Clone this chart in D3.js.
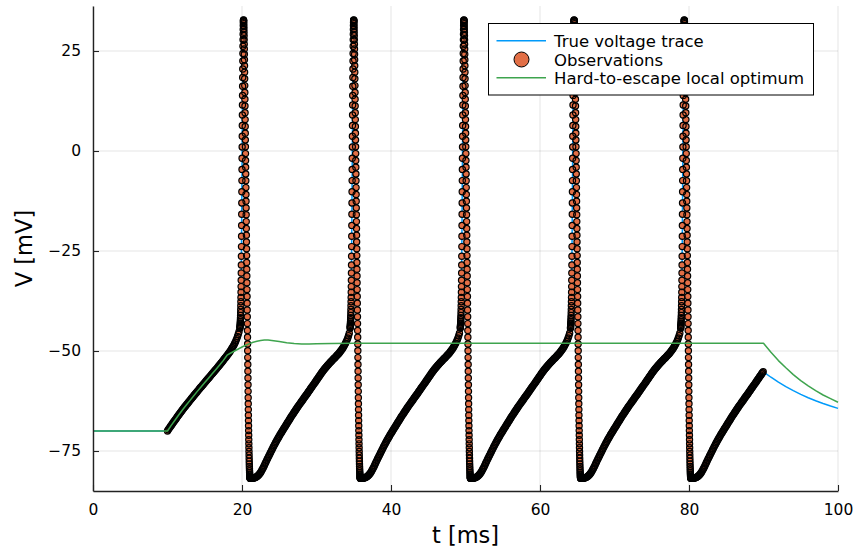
<!DOCTYPE html>
<html>
<head>
<meta charset="utf-8">
<script src="https://cdn.jsdelivr.net/npm/d3@7"></script>
<style>
  html, body { margin: 0; padding: 0; background: #fff; }
  svg { display: block; font-family: "DejaVu Sans", sans-serif; }
</style>
</head>
<body>
<svg id="chart" width="856" height="548"></svg>
<script>
// ---- axis ticks and series names ----
const xTicks = [0, 20, 40, 60, 80, 100];
const yTicks = [-75, -50, -25, 0, 25];
const seriesNames = ["True voltage trace", "Observations", "Hard-to-escape local optimum"];

// ---- membrane at rest before the current step (ms, mV) ----
const restT = [0, 10];
const restV = [-70, -70];

// ---- first depolarising ramp, one sample every 0.1 ms from t = 10 ms ----
const onsetStart = 10, onsetStep = 0.1;
const onsetV = [
  -70.0, -69.7, -69.4, -69.15, -68.85, -68.6, -68.35, -68.05, -67.8, -67.55,
  -67.3, -67.05, -66.8, -66.5, -66.25, -66.0, -65.75, -65.5, -65.25, -65.0,
  -64.75, -64.5, -64.25, -64.0, -63.8, -63.55, -63.3, -63.1, -62.85, -62.6,
  -62.4, -62.15, -61.95, -61.7, -61.5, -61.25, -61.0, -60.8, -60.55, -60.35,
  -60.1, -59.9, -59.65, -59.45, -59.2, -59.0, -58.8, -58.55, -58.35, -58.1,
  -57.9, -57.7, -57.45, -57.25, -57.0, -56.8, -56.6, -56.35, -56.15, -55.9,
  -55.7, -55.5, -55.25, -55.05, -54.8, -54.6, -54.4, -54.15, -53.95, -53.7,
  -53.5, -53.25, -53.0, -52.8, -52.55, -52.3, -52.05, -51.8, -51.6, -51.35,
  -51.1, -50.85, -50.6, -50.35, -50.1, -49.8, -49.5, -49.2, -48.9, -48.55,
  -48.2, -47.8, -47.35, -46.9, -46.35, -45.8, -45.2
];

// ---- spike peak times (ms) ----
const spikePeaks = [20.17, 34.96, 49.75, 64.54, 79.33];

// ---- action potential, one sample every 0.01 ms from 0.45 ms before each peak ----
const spikeOffset = -0.45, spikeStep = 0.01;
const spikeV = [
  // upstroke
  -44.3, -44.1, -43.85, -43.6, -43.3, -43.0, -42.6, -42.2, -41.7, -41.1,
  -40.4, -39.6, -38.7, -37.7, -36.6, -35.3, -33.9, -32.3, -30.5, -28.5,
  -26.3, -23.9, -21.3, -18.6, -15.8, -13.0, -10.2, -7.4, -4.6, -1.8,
  1.0, 3.7, 6.4, 9.0, 11.5, 13.9, 16.2, 18.4, 20.5, 22.5,
  24.4, 26.2, 27.8, 29.2, 30.4, 31.4,
  // peak
  32.1, 32.5, 32.7, 32.75, 32.6, 32.3, 31.8, 31.2, 30.5, 29.7,
  // repolarisation
  28.8, 27.8, 26.7, 25.5, 24.2, 22.8, 21.3, 19.7, 18.05, 16.35,
  14.65, 12.95, 11.25, 9.55, 7.85, 6.15, 4.45, 2.75, 1.05, -0.65,
  -2.35, -4.05, -5.75, -7.45, -9.15, -10.85, -12.55, -14.25, -15.95, -17.65,
  -19.35, -21.05, -22.75, -24.45, -26.15, -27.85, -29.55, -31.25, -32.95, -34.65,
  -36.35, -38.05, -39.75, -41.45, -43.15, -44.85, -46.55, -48.25, -49.95, -51.65,
  -53.35, -55.05, -56.75, -58.45,
  // approach to the after-hyperpolarisation trough
  -60.09, -61.67, -63.19, -64.65, -66.06, -67.4, -68.68, -69.9, -71.07, -72.17,
  -73.21, -74.2, -75.12, -75.99, -76.79, -77.54, -78.22, -78.85, -79.41, -79.92,
  -80.37, -80.76, -81.08, -81.35, -81.56, -81.71, -81.8, -81.83, -81.8
];

// ---- recovery towards threshold, one sample every 0.1 ms from 1.03 ms after each peak ----
const recoveryOffset = 1.03, recoveryStep = 0.1;
const recoveryV = [
  -81.8, -81.8, -81.8, -81.8, -81.75, -81.7, -81.6, -81.5, -81.4, -81.25,
  -81.05, -80.85, -80.6, -80.35, -80.05, -79.7, -79.35, -79.0, -78.6, -78.2,
  -77.8, -77.4, -77.0, -76.65, -76.25, -75.9, -75.5, -75.15, -74.75, -74.4,
  -74.0, -73.65, -73.3, -72.95, -72.6, -72.25, -71.95, -71.6, -71.3, -70.95,
  -70.65, -70.35, -70.05, -69.75, -69.45, -69.15, -68.85, -68.55, -68.25, -67.95,
  -67.65, -67.35, -67.05, -66.75, -66.45, -66.15, -65.9, -65.6, -65.3, -65.05,
  -64.75, -64.5, -64.2, -63.95, -63.65, -63.4, -63.15, -62.85, -62.6, -62.35,
  -62.1, -61.8, -61.55, -61.3, -61.05, -60.8, -60.55, -60.25, -60.0, -59.75,
  -59.45, -59.2, -58.95, -58.65, -58.4, -58.15, -57.85, -57.6, -57.3, -57.05,
  -56.8, -56.5, -56.25, -56.0, -55.7, -55.45, -55.2, -54.95, -54.7, -54.45,
  -54.25, -54.0, -53.8, -53.55, -53.35, -53.15, -52.95, -52.75, -52.55, -52.35,
  -52.15, -51.95, -51.8, -51.6, -51.4, -51.2, -51.0, -50.8, -50.6, -50.35,
  -50.1, -49.85, -49.6, -49.35, -49.05, -48.75, -48.4, -48.05, -47.65, -47.25,
  -46.75, -46.2, -45.55
];

// stimulus switched off (end of observations)
const stimEnd = 90;

// ---- true trace after the stimulus ----
const tailT = [90, 91, 92, 93, 94, 95, 96, 97, 98, 99, 100];
const tailV = [-55.2, -56.56, -57.79, -58.91, -59.92, -60.85, -61.68, -62.45, -63.14, -63.77, -64.34];

// ---- local-optimum model trace ----
const fitT = [0, 10, 10.5, 11, 11.5, 12, 12.5, 13, 13.5, 14, 14.5, 15, 15.5, 16, 16.5, 17, 17.5, 18, 18.5,
  19, 19.5, 20, 20.5, 21, 21.5, 22, 22.5, 23, 23.5, 24, 24.5, 25, 26, 27, 28, 29, 30, 32, 35, 90,
  91, 92, 93, 94, 95, 96, 97, 98, 99, 100];
const fitV = [-70, -70, -68.6, -67.3, -66.0, -64.75, -63.55, -62.4, -61.25, -60.1, -59.0, -57.9, -56.8, -55.7, -54.6, -53.5, -52.35, -51.05, -50.5,
  -50.0, -49.5, -49.0, -48.55, -48.15, -47.8, -47.55, -47.35, -47.25, -47.25, -47.35, -47.5, -47.65, -47.95, -48.15, -48.25, -48.25, -48.2, -48.1, -48.05, -48.05,
  -50.3, -52.4, -54.2, -55.9, -57.4, -58.7, -59.9, -61.0, -61.9, -62.8];

// ---- assemble observation samples on their time grids ----
const observations = [];
onsetV.forEach((v, i) => observations.push({ t: onsetStart + i * onsetStep, v }));
spikePeaks.forEach(p => {
  spikeV.forEach((v, i) => observations.push({ t: p + spikeOffset + i * spikeStep, v }));
  recoveryV.forEach((v, i) => {
    const t = p + recoveryOffset + i * recoveryStep;
    if (t <= stimEnd + 1e-9) observations.push({ t, v });
  });
});

const trueTrace = [
  ...restT.map((t, i) => ({ t, v: restV[i] })),
  ...observations,
  ...tailT.map((t, i) => ({ t, v: tailV[i] }))
];
const fitTrace = fitT.map((t, i) => ({ t, v: fitV[i] }));

// ---- layout ----
const svg = d3.select("#chart");
const W = 856, H = 548;
const plot = { left: 93, right: 838, top: 6, bottom: 491 };
const colors = { trace: "#009AFA", obs: "#E26F46", fit: "#3EA44E" };
const markerR = 3.1;

svg.append("rect").attr("width", W).attr("height", H).attr("fill", "#fff");

const x = d3.scaleLinear().domain([0, 100]).range([plot.left, plot.right]);
const y = d3.scaleLinear().domain([-85, 36.25]).range([plot.bottom, plot.top]);

// grid
const grid = svg.append("g").attr("stroke", "#000").attr("stroke-opacity", 0.1).attr("stroke-width", 1);
grid.selectAll(".gx").data(xTicks).join("line")
  .attr("x1", d => x(d)).attr("x2", d => x(d))
  .attr("y1", plot.top).attr("y2", plot.bottom);
grid.selectAll(".gy").data(yTicks).join("line")
  .attr("x1", plot.left).attr("x2", plot.right)
  .attr("y1", d => y(d)).attr("y2", d => y(d));

// true voltage trace
const line = d3.line().x(d => x(d.t)).y(d => y(d.v));
svg.append("path").datum(trueTrace)
  .attr("fill", "none").attr("stroke", colors.trace).attr("stroke-width", 1.5)
  .attr("stroke-linejoin", "round").attr("d", line);

// observation markers: fills first, outlines on top so dense runs read as a dark band
const obsLayer = svg.append("g");
obsLayer.append("g").selectAll("circle").data(observations).join("circle")
  .attr("cx", d => x(d.t)).attr("cy", d => y(d.v)).attr("r", markerR)
  .attr("fill", colors.obs);
obsLayer.append("g").selectAll("circle").data(observations).join("circle")
  .attr("cx", d => x(d.t)).attr("cy", d => y(d.v)).attr("r", markerR)
  .attr("fill", "none").attr("stroke", "#000").attr("stroke-width", 1.2);

// local optimum
svg.append("path").datum(fitTrace)
  .attr("fill", "none").attr("stroke", colors.fit).attr("stroke-width", 1.5)
  .attr("stroke-linejoin", "round").attr("d", line);

// axes
const fmt = d => (d < 0 ? "\u2212" + Math.abs(d) : String(d));
const xAxis = svg.append("g").attr("transform", `translate(0,${plot.bottom})`)
  .call(d3.axisBottom(x).tickValues(xTicks).tickFormat(fmt).tickSizeInner(-6).tickSizeOuter(0).tickPadding(13));
const yAxis = svg.append("g").attr("transform", `translate(${plot.left},0)`)
  .call(d3.axisLeft(y).tickValues(yTicks).tickFormat(fmt).tickSizeInner(-6).tickSizeOuter(0).tickPadding(12));
[xAxis, yAxis].forEach(a => {
  a.select(".domain").attr("stroke", "#222").attr("stroke-width", 1.4);
  a.selectAll(".tick line").attr("stroke", "#222").attr("stroke-width", 1.1);
  a.selectAll(".tick text").attr("fill", "#000").style("font-size", "15.5px")
    .style("font-family", "'DejaVu Sans', sans-serif");
});

// axis titles
svg.append("text").attr("x", (plot.left + plot.right) / 2).attr("y", 543)
  .attr("text-anchor", "middle").style("font-size", "22.5px").text("t [ms]");
svg.append("text").attr("transform", `translate(31.5,${(plot.top + plot.bottom) / 2}) rotate(-90)`)
  .attr("text-anchor", "middle").style("font-size", "22.5px").text("V [mV]");

// legend
const legend = svg.append("g");
legend.append("rect").attr("x", 488.5).attr("y", 23.5).attr("width", 325).attr("height", 71.5)
  .attr("fill", "#fff").attr("stroke", "#000").attr("stroke-width", 1);
const rowY = [40.7, 59.5, 77.7];
seriesNames.forEach((name, i) => {
  const g = legend.append("g");
  if (i === 1) {
    g.append("circle").attr("cx", 521.5).attr("cy", rowY[i]).attr("r", 7.5)
      .attr("fill", colors.obs).attr("stroke", "#000").attr("stroke-width", 1);
  } else {
    g.append("line").attr("x1", 496.5).attr("x2", 546).attr("y1", rowY[i]).attr("y2", rowY[i])
      .attr("stroke", i === 0 ? colors.trace : colors.fit).attr("stroke-width", 1.5);
  }
  g.append("text").attr("x", 554).attr("y", rowY[i]).attr("dy", "0.38em")
    .style("font-size", "16.5px").text(name);
});
</script>
</body>
</html>
